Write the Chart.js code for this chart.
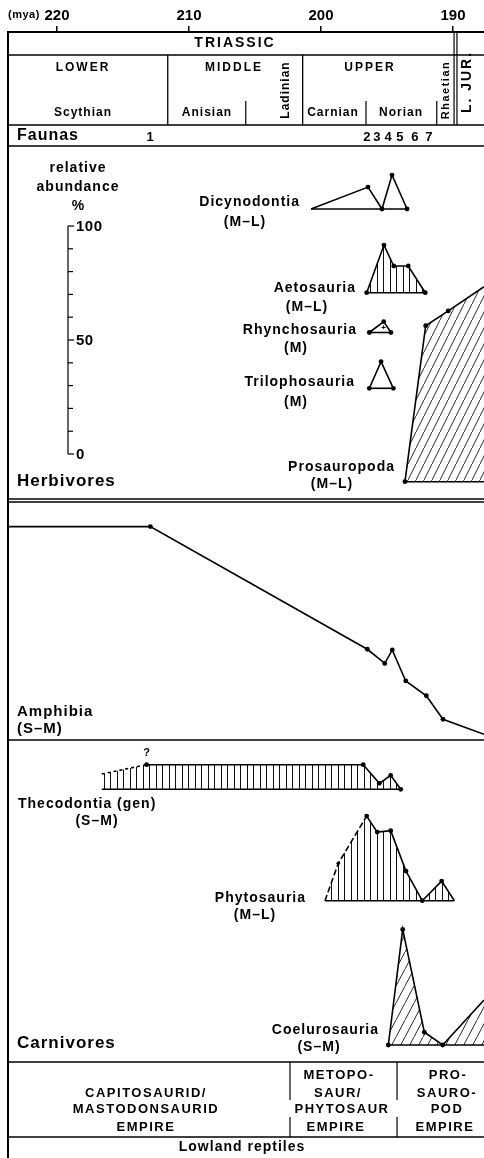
<!DOCTYPE html>
<html>
<head>
<meta charset="utf-8">
<script src="https://cdn.jsdelivr.net/npm/chart.js@4.4.1/dist/chart.umd.min.js"></script>
<style>
  html, body { margin: 0; padding: 0; background: #fff; }
  #wrap { width: 484px; height: 1158px; }
</style>
</head>
<body>
<div id="wrap"><canvas id="chart" width="484" height="1158"></canvas></div>
<script>
// time axis (million years ago) and fauna positions
const tickAges = [220, 210, 200, 190];
const faunaLabels = ['1', '2', '3', '4', '5', '6', '7'];
const faunaLabelAges = [212.95, 196.52, 195.76, 194.92, 194.02, 192.88, 191.82];
const stageLines = [211.61, 201.39];          // Lower|Middle, Middle|Upper
const subStageLines = [205.70, 196.59, 191.23]; // Anisian|Ladinian, Carnian|Norian, Norian|Rhaetian
const periodLines = [189.92, 189.70];         // Triassic | Jurassic (double)
const empireLines = [202.35, 194.24];

// relative abundance (%) per group, ages in mya
const dicyAges = [200.76, 196.44, 195.38, 194.62, 193.48];
const dicyValues = [0, 9.6, 0, 14.9, 0];
const aetoAges = [196.54, 195.23, 194.49, 193.39, 192.10];
const aetoValues = [0, 20.9, 11.7, 11.7, 0];
const rhynAges = [196.34, 195.25, 194.70];
const rhynValues = [0, 4.8, 0];
const triloAges = [196.34, 195.45, 194.52];
const triloValues = [0, 11.7, 0];
const prosAges = [193.64, 192.07, 190.36, 187.65];
const prosValues = [0, 68.4, 74.9, 85.5];
const amphAges = [224.0, 212.93, 196.49, 195.17, 194.60, 193.58, 192.02, 190.76, 187.65];
const amphValues = [93.6, 93.6, 39.8, 33.6, 39.5, 25.9, 19.4, 9.1, 2.5];
const thecAges = [216.61, 213.21, 196.80, 195.58, 194.72, 193.96];
const thecValues = [6.7, 10.8, 10.8, 2.6, 6.1, 0];
const phytAges = [199.70, 198.69, 196.54, 195.74, 194.72, 193.56, 192.33, 190.86, 189.90];
const phytValues = [0, 16.4, 37.1, 30.1, 30.7, 13.0, 0, 8.6, 0];
const coelAges = [194.90, 193.81, 192.17, 190.78, 187.65];
const coelValues = [0, 50.7, 5.6, 0, 19.7];
const abundTicks = [0, 10, 20, 30, 40, 50, 60, 70, 80, 90, 100];
const abundLabels = [0, 50, 100];

// layout
const AREA_TOP = 32, AREA_BOTTOM = 1158, AREA_LEFT = 8;
const PX_PER_PCT = 2.28;
const ROW = { period: 55, stage: 125, fauna: 146, herbA: 499, herbB: 502, amph: 740, carn: 1062, empire: 1137 };
const FONT = '"Liberation Sans", Arial, sans-serif';

function axisAt(basePx) {
  return {
    type: 'linear', display: false,
    min: -(AREA_BOTTOM - basePx) / PX_PER_PCT,
    max: (basePx - AREA_TOP) / PX_PER_PCT
  };
}

const canvas = document.getElementById('chart');
const mainCtx = canvas.getContext('2d');

function verticalHatch() {
  const c = document.createElement('canvas');
  c.width = 13; c.height = 4;
  const g = c.getContext('2d');
  g.fillStyle = '#111';
  g.fillRect(0, 0, 1, 4);
  g.fillRect(6, 0, 1, 4);
  return mainCtx.createPattern(c, 'repeat');
}

function diagonalHatch(w, h) {
  const c = document.createElement('canvas');
  c.width = w; c.height = h;
  const g = c.getContext('2d');
  g.strokeStyle = '#111';
  g.lineWidth = 0.9;
  g.beginPath();
  g.moveTo(-1, h + h / w); g.lineTo(w + 1, -h / w);
  g.stroke();
  return mainCtx.createPattern(c, 'repeat');
}

const vPat = verticalHatch();
const dPat = diagonalHatch(8, 16);
const dPat2 = diagonalHatch(9, 17);

function toXY(ages, values) {
  return ages.map((a, i) => ({ x: a, y: values[i] }));
}

function series(label, ages, values, axis, extra) {
  return Object.assign({
    label,
    data: toXY(ages, values),
    yAxisID: axis,
    showLine: true,
    borderColor: '#000',
    borderWidth: 1.6,
    pointRadius: 2.4,
    pointBackgroundColor: '#000',
    pointBorderWidth: 0,
    fill: false,
    baseline: true
  }, extra || {});
}

const datasets = [
  series('Dicynodontia', dicyAges, dicyValues, 'yDicy', { pointRadius: [0, 2.4, 2.4, 2.4, 2.4] }),
  series('Aetosauria', aetoAges, aetoValues, 'yAeto', { fill: 'origin', backgroundColor: vPat }),
  series('Rhynchosauria', rhynAges, rhynValues, 'yRhyn'),
  series('Trilophosauria', triloAges, triloValues, 'yTrilo'),
  series('Prosauropoda', prosAges, prosValues, 'yPros', { fill: 'origin', backgroundColor: dPat, pointRadius: [2.4, 2.4, 2.4, 0] }),
  series('Amphibia', amphAges, amphValues, 'yAmph', { baseline: false, pointRadius: [0, 2.4, 2.4, 2.4, 2.4, 2.4, 2.4, 2.4, 0] }),
  series('Thecodontia (gen)', thecAges, thecValues, 'yThec', {
    fill: 'origin', backgroundColor: vPat, pointRadius: [0, 2.4, 2.4, 2.4, 2.4, 2.4],
    segment: { borderDash: ctx => ctx.p0DataIndex < 1 ? [3, 3] : undefined }
  }),
  series('Phytosauria', phytAges, phytValues, 'yPhyt', {
    fill: 'origin', backgroundColor: vPat, pointRadius: [0, 1.8, 2.4, 2.4, 2.4, 2.4, 2.4, 2.4, 0],
    segment: { borderDash: ctx => ctx.p0DataIndex < 2 ? [6, 3] : undefined }
  }),
  series('Coelurosauria', coelAges, coelValues, 'yCoel', { fill: 'origin', backgroundColor: dPat2, pointRadius: [2.4, 2.4, 2.4, 2.4, 0] })
];

// texts: [text, x, y, font, align, spacing, rotate]
const big = 'bold 17px ' + FONT;
const mid = 'bold 14px ' + FONT;
const hdr = 'bold 12px ' + FONT;
const emp = 'bold 13px ' + FONT;
const texts = [
  ['(mya)', 8, 15, 'bold 11px ' + FONT, 'left', 0.5],
  ['TRIASSIC', 235, 43, 'bold 14px ' + FONT, 'center', 2],
  ['LOWER', 83, 68, hdr, 'center', 2],
  ['MIDDLE', 234, 68, hdr, 'center', 2],
  ['UPPER', 370, 68, hdr, 'center', 2],
  ['Scythian', 83, 113, hdr, 'center', 1],
  ['Anisian', 207, 113, hdr, 'center', 1],
  ['Carnian', 333, 113, hdr, 'center', 1],
  ['Norian', 401, 113, hdr, 'center', 1],
  ['Ladinian', 286, 90, hdr, 'center', 1, true],
  ['Rhaetian', 446, 90, 'bold 11px ' + FONT, 'center', 1.5, true],
  ['L. JUR.', 467, 82, 'bold 14px ' + FONT, 'center', 2, true],
  ['Faunas', 17, 136, 'bold 16px ' + FONT, 'left', 1],
  ['relative', 78, 168, mid, 'center', 1],
  ['abundance', 78, 187, mid, 'center', 1],
  ['%', 78, 206, mid, 'center', 0],
  ['Dicynodontia', 300, 202, mid, 'right', 1],
  ['(M\u2013L)', 245, 222, mid, 'center', 1],
  ['Aetosauria', 356, 288, mid, 'right', 1],
  ['(M\u2013L)', 307, 307, mid, 'center', 1],
  ['Rhynchosauria', 357, 330, mid, 'right', 1],
  ['(M)', 296, 348, mid, 'center', 1],
  ['Trilophosauria', 355, 382, mid, 'right', 1],
  ['(M)', 296, 402, mid, 'center', 1],
  ['Prosauropoda', 395, 467, mid, 'right', 1],
  ['(M\u2013L)', 332, 484, mid, 'center', 1],
  ['Herbivores', 17, 481, big, 'left', 1],
  ['Amphibia', 17, 712, 'bold 15px ' + FONT, 'left', 1],
  ['(S\u2013M)', 17, 729, 'bold 15px ' + FONT, 'left', 1],
  ['Thecodontia (gen)', 18, 804, mid, 'left', 1],
  ['(S\u2013M)', 97, 821, mid, 'center', 1],
  ['Phytosauria', 306, 898, mid, 'right', 1],
  ['(M\u2013L)', 255, 915, mid, 'center', 1],
  ['Coelurosauria', 379, 1030, mid, 'right', 1],
  ['(S\u2013M)', 319, 1047, mid, 'center', 1],
  ['Carnivores', 17, 1043, big, 'left', 1],
  ['CAPITOSAURID/', 146, 1093, emp, 'center', 1.5],
  ['MASTODONSAURID', 146, 1109, emp, 'center', 1.5],
  ['EMPIRE', 146, 1127, emp, 'center', 1.5],
  ['METOPO-', 339, 1075, emp, 'center', 1.5],
  ['SAUR/', 338, 1093, emp, 'center', 1.5],
  ['PHYTOSAUR', 342, 1109, emp, 'center', 1.5],
  ['EMPIRE', 336, 1127, emp, 'center', 1.5],
  ['PRO-', 448, 1075, emp, 'center', 1.5],
  ['SAURO-', 447, 1093, emp, 'center', 1.5],
  ['POD', 447, 1109, emp, 'center', 1.5],
  ['EMPIRE', 445, 1127, emp, 'center', 1.5],
  ['Lowland reptiles', 242, 1147, mid, 'center', 1]
];

function put(ctx, t) {
  const [str, x, y, font, align, sp, rot] = t;
  ctx.save();
  ctx.font = font;
  ctx.letterSpacing = (sp || 0) + 'px';
  ctx.textAlign = align;
  ctx.textBaseline = 'middle';
  ctx.fillStyle = '#000';
  if (rot) {
    ctx.translate(x, y);
    ctx.rotate(-Math.PI / 2);
    ctx.fillText(str, 0, 0);
  } else {
    ctx.fillText(str, x, y);
  }
  ctx.restore();
}

function line(ctx, x1, y1, x2, y2, w) {
  ctx.lineWidth = w || 1.5;
  ctx.beginPath();
  ctx.moveTo(x1, y1);
  ctx.lineTo(x2, y2);
  ctx.stroke();
}

// frame, header table, baselines and text
const framePlugin = {
  id: 'frame',
  afterDatasetsDraw(chart) {
    const ctx = chart.ctx;
    const xs = chart.scales.x;
    const L = chart.chartArea.left, R = chart.width;
    ctx.save();
    ctx.strokeStyle = '#000';

    // baselines of the abundance polygons
    chart.data.datasets.forEach(ds => {
      if (!ds.baseline) return;
      const ys = chart.scales[ds.yAxisID];
      const ages = ds.data.map(p => p.x);
      const y0 = ys.getPixelForValue(0);
      line(ctx, xs.getPixelForValue(Math.max(...ages)), y0, Math.min(xs.getPixelForValue(Math.min(...ages)), R), y0, 1.6);
    });

    // horizontal rules
    [ROW.period, ROW.stage, ROW.fauna, ROW.herbA, ROW.herbB, ROW.amph, ROW.carn, ROW.empire].forEach(y => line(ctx, L, y, R, y, 1.6));
    // left frame
    line(ctx, L, AREA_TOP, L, AREA_BOTTOM, 2);
    // stage boundaries
    stageLines.forEach(a => { const x = xs.getPixelForValue(a); line(ctx, x, ROW.period, x, ROW.stage, 1.3); });
    subStageLines.forEach(a => { const x = xs.getPixelForValue(a); line(ctx, x, 101, x, ROW.stage, 1.2); });
    periodLines.forEach(a => { const x = xs.getPixelForValue(a); line(ctx, x, AREA_TOP, x, ROW.stage, 1.2); });
    empireLines.forEach(a => {
      const x = xs.getPixelForValue(a);
      line(ctx, x, ROW.carn, x, 1100, 1.2);
      line(ctx, x, 1117, x, ROW.empire, 1.2);
    });

    // relative abundance scale
    const ya = chart.scales.yAbund;
    const ax = 68;
    line(ctx, ax, ya.getPixelForValue(0), ax, ya.getPixelForValue(100), 1.2);
    abundTicks.forEach(v => {
      const y = ya.getPixelForValue(v);
      line(ctx, ax, y, ax + (abundLabels.includes(v) ? 6 : 5), y, 1.2);
    });
    abundLabels.forEach(v => put(ctx, [String(v), ax + 8, ya.getPixelForValue(v) + 1, 'bold 15px ' + FONT, 'left', 0.5]));

    // fauna numbers
    faunaLabels.forEach((f, i) => put(ctx, [f, xs.getPixelForValue(faunaLabelAges[i]), 137, 'bold 13px ' + FONT, 'center', 0]));

    // markers on the polygons
    const yt = chart.scales.yThec;
    put(ctx, ['?', xs.getPixelForValue(thecAges[1]), yt.getPixelForValue(thecValues[1]) - 12, 'bold 11px ' + FONT, 'center', 0]);
    const yr = chart.scales.yRhyn;
    put(ctx, ['+', xs.getPixelForValue(rhynAges[1]), yr.getPixelForValue(rhynValues[1] / 2.6), 'bold 8px ' + FONT, 'center', 0]);

    texts.forEach(t => put(ctx, t));
    ctx.restore();
  }
};

new Chart(canvas, {
  type: 'scatter',
  data: { datasets },
  plugins: [framePlugin],
  options: {
    responsive: false,
    animation: false,
    events: [],
    layout: { autoPadding: false, padding: { left: AREA_LEFT, right: 0, top: 0, bottom: 0 } },
    plugins: { legend: { display: false }, tooltip: { enabled: false } },
    scales: {
      x: {
        type: 'linear',
        position: 'top',
        reverse: true,
        min: 187.652,
        max: 223.712,
        afterBuildTicks: s => { s.ticks = tickAges.map(v => ({ value: v })); },
        afterFit: s => { s.height = AREA_TOP; },
        ticks: {
          color: '#000',
          padding: 1,
          maxRotation: 0,
          autoSkip: false,
          font: { family: FONT, size: 15, weight: 'bold' }
        },
        grid: { drawOnChartArea: false, drawTicks: true, tickLength: 6, color: '#000', lineWidth: 1.5 },
        border: { display: true, color: '#000', width: 2 }
      },
      yAbund: axisAt(454),
      yDicy: axisAt(209),
      yAeto: axisAt(292.7),
      yRhyn: axisAt(332.5),
      yTrilo: axisAt(388.3),
      yPros: axisAt(481.7),
      yAmph: axisAt(740),
      yThec: axisAt(789.3),
      yPhyt: axisAt(900.7),
      yCoel: axisAt(1045)
    }
  }
});
</script>
</body>
</html>
